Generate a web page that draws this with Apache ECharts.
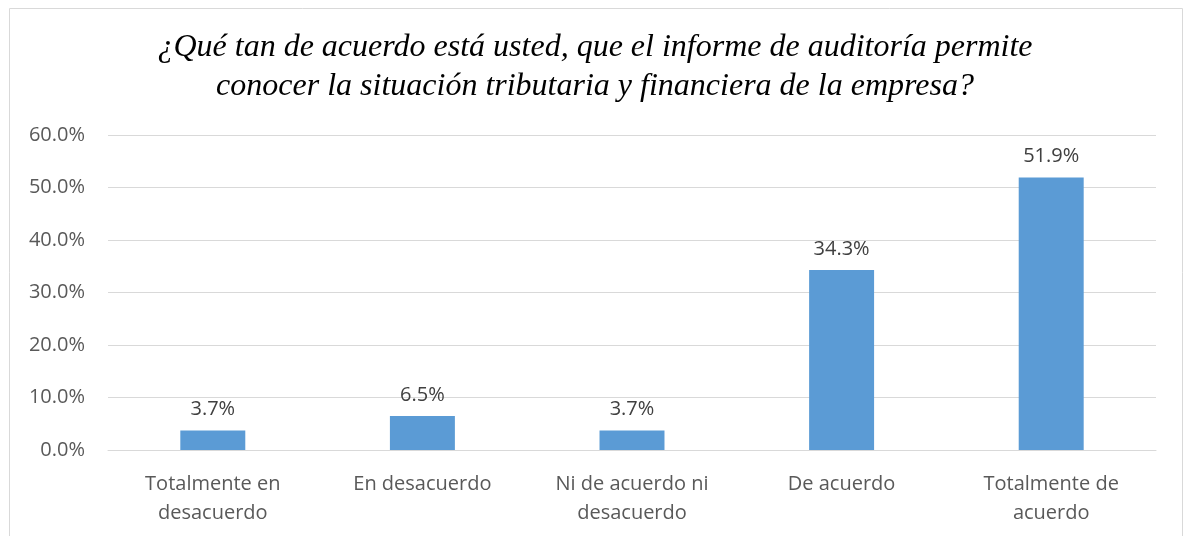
<!DOCTYPE html>
<html>
<head>
<meta charset="utf-8">
<title>chart</title>
<script src="https://cdn.jsdelivr.net/npm/echarts@6/dist/echarts.min.js"></script>
<style>
  body { margin: 0; padding: 0; background: #fff; }
  #main { width: 1190px; height: 536px; }
</style>
</head>
<body>
<div id="main"></div>
<script>
// categorías y porcentajes
var categories = ['Totalmente en\ndesacuerdo', 'En desacuerdo', 'Ni de acuerdo ni\ndesacuerdo', 'De acuerdo', 'Totalmente de\nacuerdo'];
var values = [3.7, 6.5, 3.7, 34.3, 51.9];
var titleLines = ['¿Qué tan de acuerdo está usted, que el informe de auditoría permite', 'conocer la situación tributaria y financiera de la empresa?'];

var myChart = echarts.init(document.getElementById('main'));
myChart.setOption({
  animation: false,
  title: {
    text: titleLines.join('\n'),
    left: 'center',
    top: 23,
    textStyle: {
      fontFamily: 'Liberation Serif',
      fontStyle: 'italic',
      fontWeight: 'normal',
      fontSize: 32,
      lineHeight: 39,
      color: '#000'
    }
  },
  graphic: [{
    type: 'rect',
    shape: {x: 9.5, y: 8.5, width: 1173, height: 540},
    style: {fill: 'none', stroke: '#d9d9d9', lineWidth: 1},
    silent: true
  }],
  grid: {
    left: 108,
    right: 34,
    top: 135,
    bottom: 86
  },
  xAxis: {
    type: 'category',
    data: categories,
    axisTick: {show: false},
    axisLine: {show: true, lineStyle: {color: '#d9d9d9', width: 1}},
    axisLabel: {
      margin: 20,
      color: '#595959',
      fontFamily: 'Open Sans',
      fontSize: 20,
      lineHeight: 29,
      interval: 0
    }
  },
  yAxis: {
    type: 'value',
    min: 0,
    max: 60,
    interval: 10,
    axisLine: {show: false},
    axisTick: {show: false},
    splitLine: {lineStyle: {color: '#d9d9d9', width: 1}},
    axisLabel: {
      margin: 23,
      color: '#595959',
      fontFamily: 'Open Sans',
      fontSize: 20,
      formatter: function (v) { return v.toFixed(1) + '%'; }
    }
  },
  series: [{
    type: 'bar',
    data: values,
    barWidth: '31%',
    itemStyle: {color: '#5b9bd5'},
    label: {
      show: true,
      position: 'top',
      distance: 11,
      color: '#404040',
      fontFamily: 'Open Sans',
      fontSize: 20,
      formatter: function (p) { return p.value.toFixed(1) + '%'; }
    }
  }]
});
</script>
</body>
</html>
